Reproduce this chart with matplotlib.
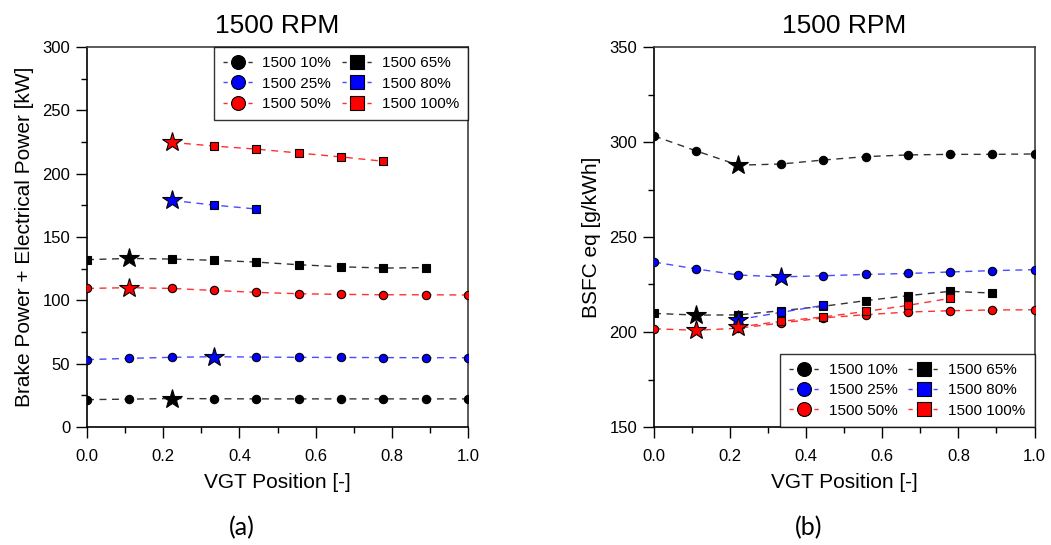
import numpy as np
import matplotlib
matplotlib.use("Agg")
import matplotlib.pyplot as plt
from matplotlib.lines import Line2D
from matplotlib.ticker import MultipleLocator, FormatStrFormatter

plt.rcParams["font.family"] = ["Liberation Sans", "DejaVu Sans"]

nan = np.nan

# VGT position sweep
vgt = [0.0, 0.111, 0.222, 0.333, 0.444, 0.556, 0.667, 0.778, 0.889, 1.0]

labels = ["1500 10%", "1500 25%", "1500 50%", "1500 65%", "1500 80%", "1500 100%"]

# Brake power + electrical power [kW]
power_10 = [21.6, 22.0, 22.5, 22.3, 22.2, 22.2, 22.2, 22.2, 22.2, 22.2]
power_25 = [53.2, 54.2, 55.0, 55.5, 55.2, 55.0, 54.9, 54.8, 54.7, 54.7]
power_50 = [109.4, 110.0, 109.4, 107.8, 106.3, 105.2, 104.7, 104.4, 104.4, 104.2]
power_65 = [132.1, 133.1, 132.6, 131.6, 130.2, 128.1, 126.5, 125.5, 125.8, nan]
power_80 = [nan, nan, 178.9, 175.2, 172.1, nan, nan, nan, nan, nan]
power_100 = [nan, nan, 224.7, 221.8, 219.4, 216.3, 213.2, 209.8, nan, nan]

# Equivalent BSFC [g/kWh]
bsfc_10 = [303.2, 295.3, 287.8, 288.4, 290.5, 292.3, 293.2, 293.5, 293.5, 293.7]
bsfc_25 = [236.8, 233.2, 230.0, 229.0, 229.6, 230.3, 230.8, 231.6, 232.3, 232.8]
bsfc_50 = [201.7, 200.9, 202.0, 204.7, 207.4, 209.1, 210.5, 211.2, 211.6, 211.7]
bsfc_65 = [209.8, 208.9, 209.0, 211.2, 213.5, 216.5, 219.1, 221.4, 220.5, nan]
bsfc_80 = [nan, nan, 206.5, 210.3, 214.0, nan, nan, nan, nan, nan]
bsfc_100 = [nan, nan, 202.6, 205.6, 207.9, 210.8, 214.0, 217.7, nan, nan]

# Index of the optimum (star) point for each load
best_idx = [2, 3, 1, 1, 2, 2]

colors = ["#000000", "#0000ff", "#ff0000", "#000000", "#0000ff", "#ff0000"]
line_colors = ["#333333", "#4a4aff", "#ff3030", "#333333", "#4a4aff", "#ff3030"]
markers = ["o", "o", "o", "s", "s", "s"]

power_series = [power_10, power_25, power_50, power_65, power_80, power_100]
bsfc_series = [bsfc_10, bsfc_25, bsfc_50, bsfc_65, bsfc_80, bsfc_100]

fig = plt.figure(figsize=(10.51, 5.45), dpi=100)
ax1 = fig.add_axes([87 / 1051, 118 / 545, 381 / 1051, 380 / 545])
ax2 = fig.add_axes([654 / 1051, 118 / 545, 380.5 / 1051, 380 / 545])


def draw_panel(ax, series):
    x = np.array(vgt)
    for vals, best, c, lc, m in zip(series, best_idx, colors, line_colors, markers):
        y = np.array(vals, dtype=float)
        ax.plot(x, y, ls=(0, (5, 4)), lw=1.0, color=lc, zorder=2)
        mask = ~np.isnan(y)
        mask[best] = False
        ax.plot(x[mask], y[mask], ls="none", marker=m, ms=6,
                mfc=c, mec="black", mew=0.8, zorder=3)
        ax.plot(x[best], y[best], ls="none", marker="*", ms=15,
                mfc=c, mec="black", mew=0.8, zorder=4)


def style_axes(ax):
    ax.set_xlim(0, 1.0)
    ax.xaxis.set_major_locator(MultipleLocator(0.2))
    ax.xaxis.set_minor_locator(MultipleLocator(0.1))
    ax.xaxis.set_major_formatter(FormatStrFormatter("%.1f"))
    ax.tick_params(which="major", direction="out", length=8, width=1.0, labelsize=12)
    ax.tick_params(which="minor", direction="out", length=4, width=1.0)
    ax.tick_params(axis="x", which="major", pad=8)
    ax.tick_params(axis="y", which="major", pad=4)
    for s in ["left", "bottom"]:
        ax.spines[s].set_color("black")
        ax.spines[s].set_linewidth(1.2)
    for s in ["top", "right"]:
        ax.spines[s].set_color("#404040")
        ax.spines[s].set_linewidth(1.2)
    ax.set_xlabel("VGT Position [-]", fontsize=15, labelpad=6)
    ax.set_title("1500 RPM", fontsize=19, pad=10)


def legend_handles():
    hs = []
    for c, lc, m in zip(colors, line_colors, markers):
        hs.append(Line2D([], [], ls=(0, (3, 3)), lw=1.0, color=lc, marker=m, ms=10,
                         mfc=c, mec="black", mew=0.8))
    return hs


def add_legend(ax, loc):
    leg = ax.legend(legend_handles(), labels, ncol=2, loc=loc, fontsize=11,
                    frameon=True, fancybox=False, edgecolor="black", borderaxespad=0,
                    handlelength=2.0, columnspacing=0.7, handletextpad=0.6,
                    labelspacing=0.42, borderpad=0.6)
    leg.get_frame().set_linewidth(1.0)
    return leg


draw_panel(ax1, power_series)
style_axes(ax1)
ax1.set_ylim(0, 300)
ax1.yaxis.set_major_locator(MultipleLocator(50))
ax1.yaxis.set_minor_locator(MultipleLocator(25))
ax1.set_ylabel("Brake Power + Electrical Power [kW]", fontsize=15, labelpad=6)
add_legend(ax1, "upper right")

draw_panel(ax2, bsfc_series)
style_axes(ax2)
ax2.set_ylim(150, 350)
ax2.yaxis.set_major_locator(MultipleLocator(50))
ax2.yaxis.set_minor_locator(MultipleLocator(25))
ax2.set_ylabel("BSFC eq [g/kWh]", fontsize=15, labelpad=6)
add_legend(ax2, "lower right")

fig.text(242 / 1051, 1 - 528 / 545, "(a)", fontsize=18, ha="center", va="center",
         family=["Lato", "DejaVu Sans"])
fig.text(809 / 1051, 1 - 528 / 545, "(b)", fontsize=18, ha="center", va="center",
         family=["Lato", "DejaVu Sans"])

fig.savefig("out.png", dpi=100)
